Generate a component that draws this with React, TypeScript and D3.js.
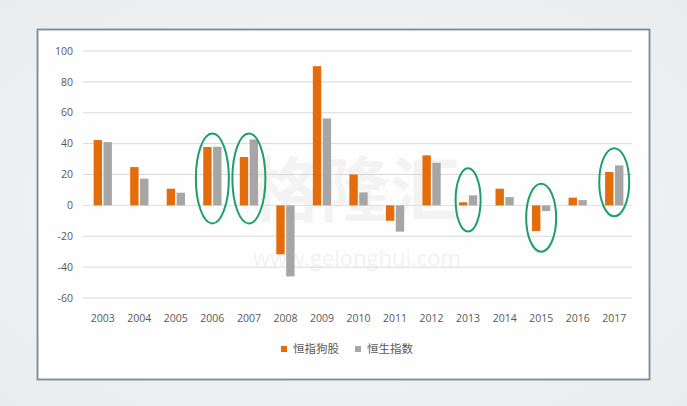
import React from "react";
import * as d3 from "d3";

const years = ["2003","2004","2005","2006","2007","2008","2009","2010","2011","2012","2013","2014","2015","2016","2017"];
const dogs = [42.3, 24.8, 10.8, 37.8, 31.3, -31.7, 90.2, 20, -10, 32.4, 2, 10.8, -16.6, 5, 21.6];
const hsi = [41, 17.3, 8.2, 38, 42.7, -46, 56.3, 8.4, -17, 27.6, 6.5, 5.4, -3.7, 3.4, 25.9];
const seriesNames = ["恒指狗股", "恒生指数"];
const yTicks = [-60, -40, -20, 0, 20, 40, 60, 80, 100];
// highlighted years with value extents of the circle annotation
const hlYears = ["2006", "2007", "2013", "2015", "2017"];
const hlTop = [46.6, 46.6, 24, 14, 37];
const hlBottom = [-11.7, -11.7, -17, -30, -7];

const W = 687, H = 406;
const ORANGE = "#e46c0a";
const GRAY = "#a6a6a6";

export default function App() {
  const y = d3.scaleLinear().domain([-60, 100]).range([298, 51]);
  const x = d3.scaleBand().domain(years).range([84.5, 632.5]).paddingInner(0.5).paddingOuter(0.25);
  const x1 = d3.scaleBand().domain(["a", "b"]).range([0, x.bandwidth()]).paddingInner(0.15);
  const font = "'Open Sans', 'Noto Sans', sans-serif";
  const cjk = "'Noto Sans CJK SC', sans-serif";
  return (
    <div style={{ position: "fixed", left: 0, top: 0 }}>
      <svg width={W} height={H} style={{ display: "block" }}>
        <defs>
          <radialGradient id="bg" cx="50%" cy="50%" r="75%">
            <stop offset="0%" stopColor="#f6f7f8" />
            <stop offset="100%" stopColor="#e9ebec" />
          </radialGradient>
        </defs>
        <rect width={W} height={H} fill="url(#bg)" />
        <rect x={37.5} y={29.5} width={612} height={350} fill="#fefefe" stroke="#7d8a97" strokeWidth={1.8} />
        {/* watermark */}
        <text x={355} y={216} textAnchor="middle" fontFamily={cjk} fontSize={70} fontWeight={700} fill="#000" opacity={0.04}>格隆汇</text>
        <text x={357} y={266} textAnchor="middle" fontFamily={font} fontSize={22} fill="#000" opacity={0.045}>www.gelonghui.com</text>
        {yTicks.map((t) => (
          <g key={t}>
            {t !== 0 && (
              <line x1={83} x2={632} y1={y(t)} y2={y(t)} stroke="#d9d9d9" strokeWidth={1} />
            )}
            <text x={73} y={y(t)} dy="0.35em" textAnchor="end" fontFamily={font} fontSize={10.5} fill="#595959">{t}</text>
          </g>
        ))}
        <line x1={83} x2={632} y1={y(0)} y2={y(0)} stroke="#e0e0e0" strokeWidth={1} />
        {years.map((yr, i) => {
          const bx = x(yr)!;
          const vals = [dogs[i], hsi[i]];
          return (
            <g key={yr}>
              {vals.map((v, j) => (
                <rect
                  key={j}
                  x={bx + x1(j === 0 ? "a" : "b")!}
                  width={x1.bandwidth()}
                  y={y(Math.max(0, v))}
                  height={Math.abs(y(v) - y(0))}
                  fill={j === 0 ? ORANGE : GRAY}
                />
              ))}
              <text x={bx + x.bandwidth() / 2} y={318} dy="0.35em" textAnchor="middle" fontFamily={font} fontSize={10.5} fill="#595959">{yr}</text>
            </g>
          );
        })}
        {hlYears.map((yr, i) => {
          const cx = x(yr)! + x.bandwidth() / 2;
          const top = y(hlTop[i]);
          const bot = y(hlBottom[i]);
          const rx = yr === "2013" ? 12.5 : yr === "2006" || yr === "2007" ? 16.5 : 15;
          return (
            <ellipse key={yr} cx={cx} cy={(top + bot) / 2} rx={rx} ry={(bot - top) / 2} fill="none" stroke="#1e9e6b" strokeWidth={2} />
          );
        })}
        <g>
          <rect x={281} y={346} width={6} height={6} fill={ORANGE} />
          <text x={293} y={349} dy="0.35em" fontFamily={cjk} fontSize={11.5} fill="#595959">{seriesNames[0]}</text>
          <rect x={355} y={346} width={6} height={6} fill={GRAY} />
          <text x={367} y={349} dy="0.35em" fontFamily={cjk} fontSize={11.5} fill="#595959">{seriesNames[1]}</text>
        </g>
      </svg>
    </div>
  );
}
